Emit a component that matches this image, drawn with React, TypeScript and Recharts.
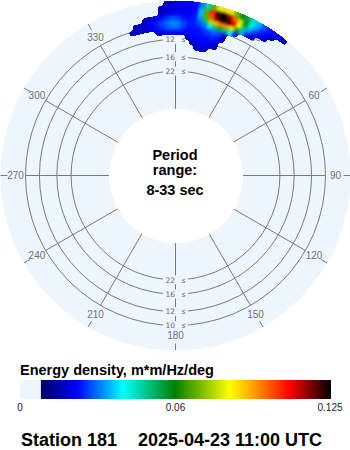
import React from 'react';
import { PieChart, Pie, Cell, RadarChart, PolarGrid, PolarAngleAxis, PolarRadiusAxis } from 'recharts';

// ---------- data ----------
// direction bins (deg, clockwise from north), 2 deg wide
const angleBins = [-19, -17, -15, -13, -11, -9, -7, -5, -3, -1, 1, 3, 5, 7, 9, 11, 13, 15, 17, 19, 21, 23, 25, 27, 29, 31, 33, 35, 37, 39, 41];
const binWidth = 2;
// frequency band edges (Hz) for the energy rows
const freqEdges = [0.0805, 0.0845, 0.0885, 0.0925, 0.0965, 0.1005, 0.1045, 0.1085, 0.1125, 0.1165, 0.1205];
// energy density per band (low frequency -> high frequency), one value per direction bin
const band0 = [0, 0, 0, 0, 0, 0, 0, 0, 0, 0, 0, 0, 0, 0, 0.017, 0.018, 0.017, 0, 0, 0, 0, 0, 0, 0, 0, 0, 0, 0, 0, 0, 0];
const band1 = [0, 0, 0, 0, 0, 0, 0, 0, 0, 0, 0, 0, 0, 0.017, 0.02, 0.021, 0.021, 0.019, 0.017, 0, 0, 0, 0, 0, 0, 0, 0, 0, 0, 0, 0];
const band2 = [0, 0, 0, 0, 0, 0, 0, 0, 0, 0, 0, 0, 0.017, 0.02, 0.022, 0.023, 0.023, 0.022, 0.019, 0, 0, 0, 0, 0, 0, 0, 0, 0, 0, 0, 0];
const band3 = [0, 0, 0, 0, 0, 0, 0.017, 0.019, 0.021, 0.022, 0.022, 0.022, 0.022, 0.023, 0.024, 0.024, 0.025, 0.026, 0.024, 0.018, 0, 0, 0, 0, 0, 0, 0, 0, 0, 0, 0];
const band4 = [0, 0.017, 0.017, 0.018, 0.02, 0.022, 0.024, 0.026, 0.029, 0.031, 0.03, 0.027, 0.024, 0.024, 0.024, 0.026, 0.028, 0.03, 0.028, 0.021, 0, 0, 0, 0, 0, 0, 0, 0, 0, 0, 0];
const band5 = [0, 0, 0.017, 0.017, 0.019, 0.022, 0.025, 0.028, 0.031, 0.033, 0.032, 0.028, 0.025, 0.025, 0.027, 0.031, 0.04, 0.052, 0.056, 0.052, 0.04, 0.024, 0, 0, 0, 0, 0, 0, 0, 0, 0];
const band6 = [0, 0, 0, 0, 0.017, 0.019, 0.021, 0.024, 0.027, 0.029, 0.028, 0.025, 0.024, 0.025, 0.032, 0.052, 0.078, 0.092, 0.098, 0.095, 0.082, 0.058, 0.036, 0.024, 0.018, 0, 0, 0, 0, 0, 0];
const band7 = [0, 0, 0, 0, 0, 0, 0, 0.017, 0.019, 0.021, 0.022, 0.022, 0.022, 0.024, 0.036, 0.07, 0.1, 0.118, 0.124, 0.122, 0.11, 0.085, 0.052, 0.034, 0.026, 0.021, 0.017, 0, 0, 0, 0];
const band8 = [0, 0, 0, 0, 0, 0, 0, 0.017, 0.018, 0.02, 0.021, 0.021, 0.021, 0.023, 0.036, 0.07, 0.105, 0.121, 0.125, 0.115, 0.1, 0.08, 0.06, 0.044, 0.033, 0.026, 0.022, 0.017, 0, 0, 0];
const band9 = [0, 0, 0, 0, 0, 0, 0, 0, 0.017, 0.019, 0.02, 0.021, 0.021, 0.023, 0.031, 0.048, 0.07, 0.082, 0.088, 0.082, 0.072, 0.064, 0.056, 0.046, 0.036, 0.029, 0.025, 0.022, 0.02, 0.017, 0];
const bands = [band0, band1, band2, band3, band4, band5, band6, band7, band8, band9];

// axes
const angleTicks = [0, 30, 60, 90, 120, 150, 180, 210, 240, 270, 300, 330];
const ringPeriods = [22, 16, 12, 10];
const innerPeriod = 33;
const outerRingPeriod = 10;

// colour scale
const stopValues = [0.0084, 0.0229, 0.0414, 0.0623, 0.0844, 0.0937, 0.1085, 0.125];
const stopColors = ['#000060', '#0000ff', '#00ffff', '#008000', '#ffff00', '#ffa000', '#ff0000', '#000000'];
const scaleMax = 0.125;
const colorbarLabels = ['0', '0.06', '0.125'];

// ---------- layout ----------
const CX = 175.5;
const CY = 175.5;
const R_IN = 66.4;
const R_RING = 150;
const R_BG = 175;
const BG = '#eef6fd';
const GRID = '#7a7a7a';
const LABEL = '#707070';
const SANS = '"Liberation Sans", Arial, sans-serif';

const fIn = 1 / innerPeriod;
const fOut = 1 / outerRingPeriod;
// same linear radius scale as the radar's radius axis, extended beyond the 10 s ring
const radiusOf = (f: number) => R_IN + ((f - fIn) / (fOut - fIn)) * (R_RING - R_IN);

function hexToRgb(h: string) {
  const n = parseInt(h.slice(1), 16);
  return [(n >> 16) & 255, (n >> 8) & 255, n & 255];
}
function colorFor(v: number): string | null {
  if (v < stopValues[0]) return null;
  for (let i = 0; i < stopValues.length - 1; i++) {
    if (v <= stopValues[i + 1]) {
      const t = (v - stopValues[i]) / (stopValues[i + 1] - stopValues[i]);
      const a = hexToRgb(stopColors[i]);
      const b = hexToRgb(stopColors[i + 1]);
      const c = a.map((x, k) => Math.round(x + (b[k] - x) * t));
      return `rgb(${c[0]},${c[1]},${c[2]})`;
    }
  }
  return stopColors[stopColors.length - 1];
}

const gridData = angleTicks.map((a) => ({ angle: a, freq: fOut }));

const AngleTick = (props: any) => {
  const { x, y, payload } = props;
  const rad = (-payload.coordinate * Math.PI) / 180;
  const ux = Math.cos(rad);
  const uy = Math.sin(rad);
  return (
    <g>
      <text x={x} y={y} dy={3.6} textAnchor="middle" fontSize={10} fill={LABEL} fontFamily={SANS}>
        {payload.value}
      </text>
      <line x1={x + 8 * ux} y1={y + 8 * uy} x2={x + 15 * ux} y2={y + 15 * uy} stroke={GRID} strokeWidth={1} />
    </g>
  );
};

const RingTick = (props: any) => {
  const { x, y, payload } = props;
  const c = typeof props.cy === 'number' ? props.cy : CY;
  const period = Math.round(1 / payload.value);
  const ys = [y, 2 * c - y];
  return (
    <g>
      {ys.map((yy, i) => (
        <g key={i}>
          <rect x={x - 12.5} y={yy - 4.5} width={25} height={9} fill={BG} />
          <text x={x - 0.5} y={yy + 2.8} textAnchor="end" fontSize={7.5} fill="#666" fontFamily='"DejaVu Sans", sans-serif'>
            {period}
          </text>
          <text x={x + 6} y={yy + 2.8} textAnchor="start" fontSize={7.5} fontStyle="italic" fill="#666" fontFamily='"DejaVu Sans", sans-serif'>
            s
          </text>
        </g>
      ))}
    </g>
  );
};

export default function App() {
  const startAngle = 90 - (angleBins[0] - binWidth / 2);
  const endAngle = 90 - (angleBins[angleBins.length - 1] + binWidth / 2);
  const barX0 = 20;
  const barX1 = 331;
  const barY = 380;
  const barH = 19;
  const xOf = (v: number) => barX0 + (v / scaleMax) * (barX1 - barX0);
  const gradStart = xOf(stopValues[0]);
  const labelXs = [barX0, (barX0 + barX1) / 2, barX1 - 1];

  return (
    <div style={{ position: 'absolute', left: 0, top: 0, width: 350, height: 450, background: '#ffffff', overflow: 'hidden' }}>
      <svg width={0} height={0} style={{ position: 'absolute' }}>
        <defs>
          <filter id="blobSmooth" x="-5%" y="-5%" width="110%" height="110%" colorInterpolationFilters="sRGB">
            <feGaussianBlur stdDeviation={1.8} />
            <feComponentTransfer>
              <feFuncA type="discrete" tableValues="0 1" />
            </feComponentTransfer>
          </filter>
        </defs>
      </svg>
      <svg width={350} height={350} style={{ position: 'absolute', left: 0, top: 0 }}>
        <circle cx={CX} cy={CY} r={R_BG} fill={BG} />
      </svg>
      <div style={{ position: 'absolute', left: 0, top: 0 }}>
        <RadarChart
          width={350}
          height={350}
          cx={CX}
          cy={CY}
          innerRadius={R_IN}
          outerRadius={R_RING}
          startAngle={90}
          endAngle={-270}
          data={gridData}
          margin={{ top: 0, right: 0, bottom: 0, left: 0 }}
        >
          <PolarGrid gridType="circle" stroke={GRID} strokeWidth={1} strokeOpacity={1} />
          <PolarAngleAxis
            dataKey="angle"
            type="number"
            domain={[0, 360]}
            ticks={angleTicks}
            allowDataOverflow
            axisLine={false}
            tickLine={false}
            tickSize={10}
            tick={<AngleTick />}
          />
          <PolarRadiusAxis
            dataKey="freq"
            type="number"
            domain={[fIn, fOut]}
            ticks={ringPeriods.map((p) => 1 / p)}
            allowDataOverflow
            angle={90}
            axisLine={false}
            tickLine={false}
            tick={<RingTick />}
          />
        </RadarChart>
      </div>
      <div style={{ position: 'absolute', left: 0, top: 0, width: 350, height: 350, filter: 'url(#blobSmooth)' }}>
        <PieChart width={350} height={350} margin={{ top: 0, right: 0, bottom: 0, left: 0 }}>
          {bands.map((vals, k) => (
            <Pie
              key={k}
              data={vals.map((v, i) => ({ dir: angleBins[i], energy: v, span: binWidth }))}
              dataKey="span"
              cx={CX}
              cy={CY}
              innerRadius={radiusOf(freqEdges[k])}
              outerRadius={Math.min(radiusOf(freqEdges[k + 1]), R_BG)}
              startAngle={startAngle}
              endAngle={endAngle}
              paddingAngle={0}
              isAnimationActive={false}
              label={false}
              labelLine={false}
            >
              {vals.map((v, i) => {
                const col = colorFor(v);
                return (
                  <Cell
                    key={i}
                    fill={col ?? 'none'}
                    stroke={col ?? 'none'}
                    strokeWidth={col ? 0.6 : 0}
                  />
                );
              })}
            </Pie>
          ))}
        </PieChart>
      </div>
      <div
        style={{
          position: 'absolute',
          left: CX - 67,
          top: CY - 67,
          width: 134,
          height: 134,
          borderRadius: '50%',
          background: '#ffffff',
        }}
      />
      <svg width={350} height={450} style={{ position: 'absolute', left: 0, top: 0 }}>
        <g fontFamily={SANS} fontWeight="bold" fill="#000" textAnchor="middle" fontSize={14.5}>
          <text x={175} y={159.5}>Period</text>
          <text x={175} y={174.5}>range:</text>
          <text x={175} y={195}>8-33 sec</text>
        </g>
        <defs>
          <linearGradient id="cbar" x1="0" x2="1" y1="0" y2="0">
            {stopValues.map((v, i) => (
              <stop
                key={i}
                offset={(v - stopValues[0]) / (scaleMax - stopValues[0])}
                stopColor={stopColors[i]}
              />
            ))}
          </linearGradient>
        </defs>
        <text x={20} y={374.5} fontFamily={SANS} fontWeight="bold" fontSize={14.5} fill="#000">
          Energy density, m*m/Hz/deg
        </text>
        <rect x={barX0} y={barY} width={gradStart - barX0} height={barH} fill={BG} />
        <rect x={gradStart} y={barY} width={barX1 - gradStart} height={barH} fill="url(#cbar)" />
        {colorbarLabels.map((t, i) => (
          <text key={t} x={labelXs[i]} y={411} textAnchor="middle" fontFamily={SANS} fontSize={10} fill="#222">
            {t}
          </text>
        ))}
        <text x={21} y={445.5} fontFamily={SANS} fontWeight="bold" fontSize={18} fill="#000">
          Station 181
        </text>
        <text x={138} y={445.5} fontFamily={SANS} fontWeight="bold" fontSize={18} fill="#000">
          2025-04-23 11:00 UTC
        </text>
      </svg>
    </div>
  );
}
